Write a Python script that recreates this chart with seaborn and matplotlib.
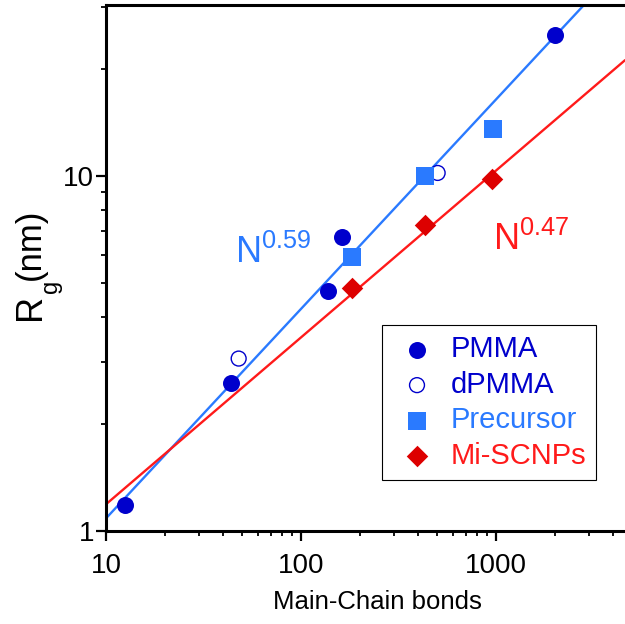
import numpy as np
import matplotlib
matplotlib.use("Agg")
import matplotlib.pyplot as plt
from matplotlib.ticker import FixedLocator, FuncFormatter, LogLocator, NullFormatter
import seaborn as sns

# Radius of gyration vs. number of main-chain bonds
pmma_n = [12.5, 43.8, 137, 162, 2010]
pmma_rg = [1.18, 2.61, 4.74, 6.73, 24.9]
dpmma_n = [47.9, 502]
dpmma_rg = [3.06, 10.2]
precursor_n = [183, 432, 961]
precursor_rg = [5.93, 10.0, 13.6]
scnp_n = [182, 430, 957]
scnp_rg = [4.83, 7.26, 9.80]

# Power-law guides  Rg = A * N**nu
nu_linear, a_linear = 0.59, 0.279
nu_scnp, a_scnp = 0.47, 0.403

x_ticks = [10, 100, 1000]
y_ticks = [1, 10]

dark_blue = "#0000CC"
light_blue = "#2A7AFF"
red_line = "#FF1A1A"
red_mark = "#DD0000"

sns.set_theme(style="ticks")
plt.rcParams["font.family"] = ["Liberation Sans", "DejaVu Sans"]
plt.rcParams["mathtext.fontset"] = "custom"
plt.rcParams["mathtext.rm"] = "Liberation Sans"
plt.rcParams["mathtext.it"] = "Liberation Sans"
plt.rcParams["mathtext.default"] = "regular"

W, H = 625, 624
fig = plt.figure(figsize=(W / 100, H / 100), dpi=100)
ax = fig.add_axes([106 / W, 93 / H, 519 / W, 526 / H])

xmax = 10 ** (1 + 519 / 195)
ymax = 10 ** (526 / 355)

n_grid = np.logspace(1, np.log10(xmax), 300)
sns.lineplot(x=n_grid, y=a_linear * n_grid ** nu_linear, ax=ax,
             color=light_blue, linewidth=1.7, zorder=2)
sns.lineplot(x=n_grid, y=a_scnp * n_grid ** nu_scnp, ax=ax,
             color=red_line, linewidth=1.7, zorder=2)

sns.scatterplot(x=pmma_n, y=pmma_rg, ax=ax, marker="o", s=150,
                color=dark_blue, edgecolor=dark_blue, linewidth=0,
                label="PMMA", zorder=3)
sns.scatterplot(x=dpmma_n, y=dpmma_rg, ax=ax, marker="o", s=115,
                facecolor="none", edgecolor=dark_blue, linewidth=1.0,
                label="dPMMA", zorder=3)
sns.scatterplot(x=precursor_n, y=precursor_rg, ax=ax, marker="s", s=180,
                color=light_blue, edgecolor=light_blue, linewidth=0,
                label="Precursor", zorder=4)
sns.scatterplot(x=scnp_n, y=scnp_rg, ax=ax, marker="D", s=120,
                color=red_mark, edgecolor=red_mark, linewidth=0,
                label="Mi-SCNPs", zorder=4)

ax.set_xscale("log")
ax.set_yscale("log")
ax.set_xlim(10, xmax)
ax.set_ylim(1, ymax)

ax.xaxis.set_major_locator(FixedLocator(x_ticks))
ax.yaxis.set_major_locator(FixedLocator(y_ticks))
ax.xaxis.set_minor_locator(LogLocator(base=10, subs=np.arange(2, 10)))
ax.yaxis.set_minor_locator(LogLocator(base=10, subs=np.arange(2, 10)))
fmt = FuncFormatter(lambda v, pos: f"{v:g}")
ax.xaxis.set_major_formatter(fmt)
ax.yaxis.set_major_formatter(fmt)
ax.xaxis.set_minor_formatter(NullFormatter())
ax.yaxis.set_minor_formatter(NullFormatter())

for side in ("left", "bottom", "top"):
    ax.spines[side].set_linewidth(2.2)
    ax.spines[side].set_color("black")
ax.spines["right"].set_visible(False)

ax.tick_params(which="major", direction="out", length=7, width=1.6,
               labelsize=20, color="black", labelcolor="black")
ax.tick_params(which="minor", direction="out", length=3.8, width=1.3,
               color="black")
ax.tick_params(axis="x", which="major", pad=9)
ax.tick_params(axis="y", which="major", pad=1.5)

ax.set_xlabel("Main-Chain bonds", fontsize=18.5, color="black")
ax.xaxis.set_label_coords((377.5 - 106) / 519, -0.112)

# Rotated y-axis title built from its parts: R, lowered subscript g, (nm)
def fig_px(x, y):
    return x / W, 1 - y / H

ylabel_parts = [("R", 40, 320, 26), ("g", 57, 293, 17), ("(nm)", 40, 280, 25)]
for s, bx, by, size in ylabel_parts:
    fx, fy = fig_px(bx, by)
    fig.text(fx, fy, s, rotation=90, rotation_mode="anchor",
             ha="left", va="baseline", fontsize=size, color="black")

ax.text(45.9, 5.69, r"N$^{0.59}$", color=light_blue, fontsize=26,
        va="baseline", ha="left")
ax.text(966, 6.19, r"N$^{0.47}$", color=red_line, fontsize=26,
        va="baseline", ha="left")

leg = ax.legend(loc="upper left", bbox_to_anchor=(382 / W, 1 - 325 / H),
                bbox_transform=fig.transFigure, borderaxespad=0,
                frameon=True, fancybox=False, framealpha=1,
                edgecolor="black", fontsize=21, handlelength=1.7,
                handletextpad=0.3, labelspacing=0.26, borderpad=0.35)
leg.get_frame().set_linewidth(0.8)
for txt, col in zip(leg.get_texts(), [dark_blue, dark_blue, light_blue, red_line]):
    txt.set_color(col)

fig.savefig("out.png", dpi=100)
